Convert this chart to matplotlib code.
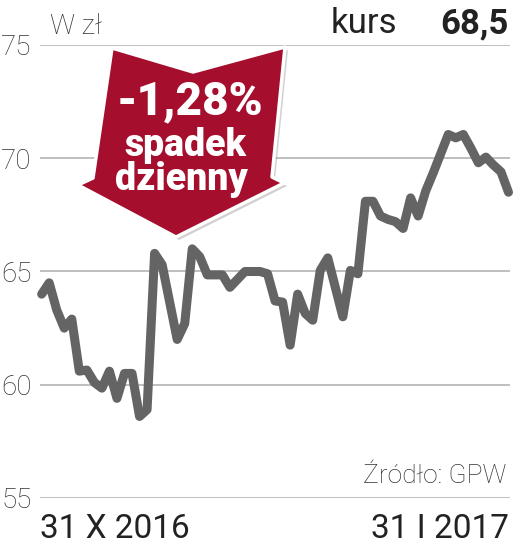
import matplotlib
matplotlib.use("Agg")
import matplotlib.pyplot as plt
from matplotlib.patches import Polygon

# kurs akcji, 31 X 2016 - 31 I 2017 (numer sesji, cena w zł)
sesja = [0, 1, 2, 3, 4, 5, 6, 7, 8, 9, 10, 11, 12, 13, 14, 15, 16, 18, 19, 20,
         21, 22, 24, 25, 27, 29, 30, 31, 32, 33, 34, 35, 36, 37, 38, 40, 41, 42,
         43, 44, 45, 46, 47, 48, 49, 50, 51, 52, 54, 55, 56, 57, 58, 59, 60, 61, 62]
kurs = [64.0, 64.5, 63.3, 62.5, 62.9, 60.6, 60.65, 60.1, 59.85, 60.6, 59.4, 60.5,
        60.5, 58.6, 58.9, 65.8, 65.3, 62.0, 62.7, 66.0, 65.65, 64.85, 64.85, 64.3,
        65.0, 65.0, 64.9, 63.7, 63.65, 61.75, 64.0, 63.15, 62.85, 65.05, 65.6,
        63.0, 65.05, 64.9, 68.1, 68.1, 67.45, 67.3, 67.2, 66.9, 68.25, 67.45,
        68.55, 69.35, 71.05, 70.9, 71.05, 70.45, 69.8, 70.05, 69.7, 69.4, 68.5]
y_ticks = [55, 60, 65, 70, 75]
data_od = "31 X 2016"
data_do = "31 I 2017"
zmiana = "-1,28%"
ostatni = "68,5"

W, H = 513, 549
plt.rcParams['font.family'] = ['Roboto', 'DejaVu Sans']

fig = plt.figure(figsize=(W / 100, H / 100), dpi=100)


def px(x, y):
    # piksele od lewego gornego rogu -> wspolrzedne figury
    return x / W, 1 - y / H


ax = fig.add_axes([40 / W, (H - 498) / H, 470 / W, 453 / H])
ax.plot(sesja, kurs, color='#646464', lw=6.5, solid_capstyle='round',
        solid_joinstyle='round', zorder=3, clip_on=False)
ax.set_ylim(55, 75)
ax.set_xlim(-0.22, 62.2)
ax.set_yticks(y_ticks)
ax.set_yticklabels([str(t) for t in y_ticks], fontsize=20, fontweight='light',
                   color='#333333')
ax.set_xticks([])
ax.tick_params(axis='y', length=0, pad=6)
ax.grid(axis='y', color='#b4b4b4', lw=1.2)
for s in ax.spines.values():
    s.set_visible(False)

# strzalka
arrow = [(112, 48), (193, 72), (285, 47), (272, 177), (284, 183), (176, 237),
         (78, 185), (93, 178)]
shadow = Polygon([px(x + 3, y + 3) for x, y in arrow], closed=True,
                 transform=fig.transFigure, facecolor='#9a9a9a', alpha=0.45,
                 edgecolor='none', zorder=4)
body = Polygon([px(x, y) for x, y in arrow], closed=True,
               transform=fig.transFigure, facecolor='#a50e2d',
               edgecolor='white', lw=2.5, joinstyle='round', zorder=5)
fig.patches.extend([shadow, body])

fig.text(*px(190, 114), zmiana, color='white', fontsize=33, fontweight='black',
         ha='center', va='baseline', zorder=6)
fig.text(*px(185, 156), "spadek", color='white', fontsize=27, fontweight='black',
         ha='center', va='baseline', zorder=6)
fig.text(*px(181, 190), "dzienny", color='white', fontsize=27, fontweight='black',
         ha='center', va='baseline', zorder=6)

# opisy
fig.text(*px(50, 34), "W zł", fontsize=20, fontweight='light', color='#333333',
         va='baseline')
fig.text(*px(331, 33), "kurs", fontsize=25, color='#222222', va='baseline')
fig.text(*px(509, 33), ostatni, fontsize=25, fontweight='bold', color='#222222',
         ha='right', va='baseline')
fig.text(*px(506, 483), "Źródło: GPW", fontsize=19, fontweight='light',
         color='#333333', ha='right', va='baseline')
fig.text(*px(40, 538), data_od, fontsize=24, color='#222222', va='baseline')
fig.text(*px(509, 538), data_do, fontsize=24, color='#222222', ha='right',
         va='baseline')

fig.savefig('out.png', dpi=100)
